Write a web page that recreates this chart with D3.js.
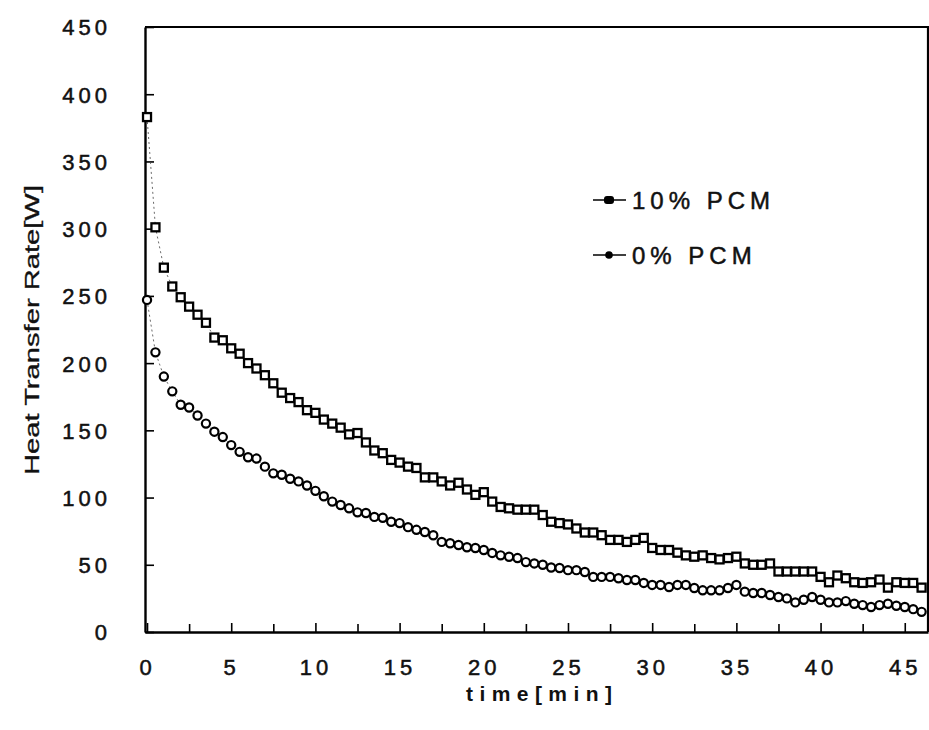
<!DOCTYPE html>
<html>
<head>
<meta charset="utf-8">
<script src="https://cdn.jsdelivr.net/npm/d3@7"></script>
<style>
  body { margin: 0; background: #fff; }
  text { font-family: "Liberation Sans", Arial, sans-serif; fill: #111; }
</style>
</head>
<body>
<div id="chart"></div>
<script>
// sample times [min], one reading every 30 s
const times = [0, 0.5, 1, 1.5, 2, 2.5, 3, 3.5, 4, 4.5, 5, 5.5, 6, 6.5, 7, 7.5, 8, 8.5, 9, 9.5,
  10, 10.5, 11, 11.5, 12, 12.5, 13, 13.5, 14, 14.5, 15, 15.5, 16, 16.5, 17, 17.5, 18, 18.5, 19, 19.5,
  20, 20.5, 21, 21.5, 22, 22.5, 23, 23.5, 24, 24.5, 25, 25.5, 26, 26.5, 27, 27.5, 28, 28.5, 29, 29.5,
  30, 30.5, 31, 31.5, 32, 32.5, 33, 33.5, 34, 34.5, 35, 35.5, 36, 36.5, 37, 37.5, 38, 38.5, 39, 39.5,
  40, 40.5, 41, 41.5, 42, 42.5, 43, 43.5, 44, 44.5, 45, 45.5, 46]

// heat transfer rate [W], 10% PCM (squares)
const pcm10 = [383, 301, 271, 257, 249, 242, 236, 230, 219, 217, 211, 207, 200, 196, 191, 185, 178, 174, 171, 165,
  163, 158, 155, 152, 147, 148, 141, 135, 133, 128, 126, 123, 122, 115, 115, 112, 109, 111, 106, 102,
  104, 97, 93, 92, 91, 91, 91, 87, 82, 81, 80, 77, 74, 74, 72, 68.5, 68.5, 67, 68.5, 70,
  62.5, 61, 61, 59, 57, 56, 57, 55, 54, 55, 56, 51, 50, 50, 51, 45, 45, 45, 45, 45,
  41, 37, 42, 40, 37, 36.5, 37, 39, 33, 37, 36.5, 36.5, 33]

// heat transfer rate [W], 0% PCM (circles)
const pcm0 = [247, 208, 190, 179, 169, 167, 161, 155, 149, 145, 139, 134, 130, 129, 123, 118, 117, 114, 112, 109,
  105, 101, 97, 94.5, 92, 89, 88.5, 85.6, 85, 82, 81, 78, 76, 74.4, 72, 67, 66, 64.7, 63, 62.5,
  61, 58.8, 57, 56, 55, 52, 51, 50, 48, 47.6, 46, 46, 44.6, 41, 41, 41, 40, 38.7, 38.7, 36.5,
  35, 35, 33.5, 35, 35, 32.7, 31, 31, 31, 32.7, 35, 30, 29, 29, 27.5, 26, 25, 22, 24, 26,
  24, 22, 22, 23, 21, 20, 18.6, 20, 21, 19.5, 18.6, 17, 15]

const xMajor = [0, 5, 10, 15, 20, 25, 30, 35, 40, 45]
const xMinor = [2.5, 7.5, 12.5, 17.5, 22.5, 27.5, 32.5, 37.5, 42.5]
const yMajor = [0, 50, 100, 150, 200, 250, 300, 350, 400, 450]
const legendNames = ["10% PCM", "0% PCM"]

const width = 929
const height = 730
const plot = {left: 145, right: 928, top: 27, bottom: 632}

const svg = d3.select("#chart").append("svg")
    .attr("width", width)
    .attr("height", height)

const xScale = d3.scaleLinear()
    .domain([-0.12, 46.38])
    .range([plot.left, plot.right])

const yScale = d3.scaleLinear()
    .domain([0, 450])
    .range([plot.bottom, plot.top])

// frame (top + right)
svg.append("path")
    .attr("d", `M${plot.left},${plot.top}H${plot.right}V${plot.bottom}`)
    .attr("fill", "none")
    .attr("stroke", "#000")
    .attr("stroke-width", 2.2)

// x axis, ticks pointing inward
const xGroup = svg.append("g")
    .attr("transform", `translate(0, ${plot.bottom})`)
    .call(d3.axisBottom(xScale).tickValues(xMajor).tickSizeInner(-9).tickSizeOuter(0))
xGroup.selectAll(".tick text")
    .attr("y", 43)
    .attr("dy", null)
    .attr("font-size", 22)

svg.append("g")
    .attr("transform", `translate(0, ${plot.bottom})`)
    .call(d3.axisBottom(xScale).tickValues(xMinor).tickSizeInner(-8).tickSizeOuter(0).tickFormat(""))
    .call(g => g.select(".domain").remove())

// y axis
const yGroup = svg.append("g")
    .attr("transform", `translate(${plot.left}, 0)`)
    .call(d3.axisLeft(yScale).tickValues(yMajor).tickSizeInner(-9).tickSizeOuter(0))
yGroup.selectAll(".tick text")
    .attr("x", -34)
    .attr("dy", "0.36em")
    .attr("font-size", 22)

svg.selectAll(".domain").attr("stroke-width", 2.4)
svg.selectAll(".tick line").attr("stroke-width", 1.6)

svg.selectAll(".tick text")
    .attr("font-family", "'Liberation Sans', Arial, sans-serif")
    .style("letter-spacing", "4px")
    .attr("fill", "#111")
    .attr("stroke", "#111")
    .attr("stroke-width", 0.5)

// axis titles
svg.append("text")
    .attr("transform", "translate(39, 330) rotate(-90)")
    .attr("text-anchor", "middle")
    .attr("font-size", 20)
    .attr("textLength", 290)
    .attr("lengthAdjust", "spacingAndGlyphs")
    .attr("stroke", "#111")
    .attr("stroke-width", 0.3)
    .text("Heat Transfer Rate[W]")

svg.append("text")
    .attr("x", 539)
    .attr("y", 701)
    .attr("text-anchor", "middle")
    .attr("font-size", 21)
    .attr("font-weight", "bold")
    .attr("textLength", 146)
    .text("time[min]")

// faint connecting lines
const line = d3.line().x((d, i) => xScale(times[i])).y(d => yScale(d))
svg.append("path")
    .datum(pcm10)
    .attr("d", line)
    .attr("fill", "none")
    .attr("stroke", "#444")
    .attr("stroke-width", 0.8)
    .attr("stroke-dasharray", "2,3")
svg.append("path")
    .datum(pcm0)
    .attr("d", line)
    .attr("fill", "none")
    .attr("stroke", "#444")
    .attr("stroke-width", 0.8)
    .attr("stroke-dasharray", "2,3")

// 10% PCM squares
const s = 8
svg.append("g").selectAll("rect")
    .data(pcm10)
    .join("rect")
    .attr("x", (d, i) => xScale(times[i]) - s / 2)
    .attr("y", d => yScale(d) - s / 2)
    .attr("width", s)
    .attr("height", s)
    .attr("fill", "#fff")
    .attr("stroke", "#000")
    .attr("stroke-width", 2.3)

// 0% PCM circles
svg.append("g").selectAll("circle")
    .data(pcm0)
    .join("circle")
    .attr("cx", (d, i) => xScale(times[i]))
    .attr("cy", d => yScale(d))
    .attr("r", 4.1)
    .attr("fill", "#fff")
    .attr("stroke", "#000")
    .attr("stroke-width", 2.2)

// legend
const legend = svg.append("g")
const legendY = [200, 255]
legendNames.forEach((name, i) => {
    const g = legend.append("g").attr("transform", `translate(0, ${legendY[i]})`)
    g.append("line")
        .attr("x1", 593).attr("x2", 626)
        .attr("stroke", "#000").attr("stroke-width", 1.6)
    if (i === 0) {
        g.append("rect")
            .attr("x", 604).attr("y", -4).attr("width", 10).attr("height", 8).attr("rx", 3)
            .attr("fill", "#000")
    } else {
        g.append("circle").attr("cx", 609).attr("r", 3.8).attr("fill", "#000")
    }
    g.append("text")
        .attr("x", 632)
        .attr("y", 9)
        .attr("font-size", 24)
        .style("letter-spacing", "5px")
        .attr("stroke", "#111")
        .attr("stroke-width", 0.5)
        .text(name)
})
</script>
</body>
</html>
